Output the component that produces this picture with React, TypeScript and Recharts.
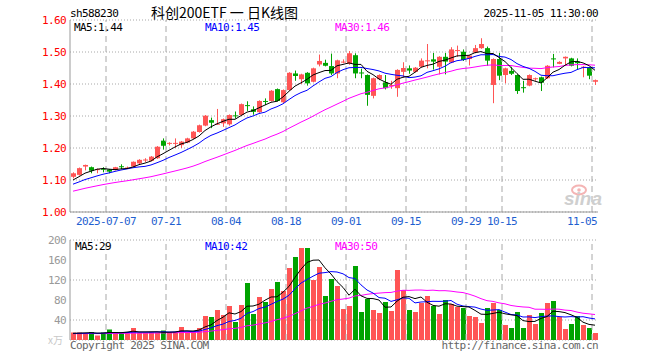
import React from 'react';
import { ComposedChart, Bar, Line, XAxis, YAxis, CartesianGrid, ReferenceLine } from 'recharts';

const RED = '#ff5555';
const GREEN = '#00a300';
const GRID = '#a8a8a8';
const FRAME = '#999';
const MONO = '"DejaVu Sans Mono", monospace';

// trading days shown (2025)
const dates = [
  '2025-06-27', '2025-06-30', '2025-07-01', '2025-07-02', '2025-07-03', '2025-07-04', '2025-07-07', '2025-07-08',
  '2025-07-09', '2025-07-10', '2025-07-11', '2025-07-14', '2025-07-15', '2025-07-16', '2025-07-17', '2025-07-18',
  '2025-07-21', '2025-07-22', '2025-07-23', '2025-07-24', '2025-07-25', '2025-07-28', '2025-07-29', '2025-07-30',
  '2025-07-31', '2025-08-01', '2025-08-04', '2025-08-05', '2025-08-06', '2025-08-07', '2025-08-08', '2025-08-11',
  '2025-08-12', '2025-08-13', '2025-08-14', '2025-08-15', '2025-08-18', '2025-08-19', '2025-08-20', '2025-08-21',
  '2025-08-22', '2025-08-25', '2025-08-26', '2025-08-27', '2025-08-28', '2025-08-29', '2025-09-01', '2025-09-02',
  '2025-09-03', '2025-09-04', '2025-09-05', '2025-09-08', '2025-09-09', '2025-09-10', '2025-09-11', '2025-09-12',
  '2025-09-15', '2025-09-16', '2025-09-17', '2025-09-18', '2025-09-19', '2025-09-22', '2025-09-23', '2025-09-24',
  '2025-09-25', '2025-09-26', '2025-09-29', '2025-09-30', '2025-10-09', '2025-10-10', '2025-10-13', '2025-10-14',
  '2025-10-15', '2025-10-16', '2025-10-17', '2025-10-20', '2025-10-21', '2025-10-22', '2025-10-23', '2025-10-24',
  '2025-10-27', '2025-10-28', '2025-10-29', '2025-10-30', '2025-10-31', '2025-11-03', '2025-11-04', '2025-11-05',
];

const opens = [
  1.110, 1.116, 1.142, 1.140, 1.131, 1.135, 1.133, 1.131, 1.143, 1.137,
  1.142, 1.152, 1.162, 1.160, 1.168, 1.223, 1.213, 1.214, 1.209, 1.217,
  1.230, 1.250, 1.270, 1.287, 1.274, 1.277, 1.274, 1.302, 1.303, 1.334,
  1.321, 1.312, 1.347, 1.347, 1.384, 1.343, 1.381, 1.433, 1.415, 1.435,
  1.407, 1.461, 1.466, 1.456, 1.433, 1.468, 1.463, 1.490, 1.436, 1.428,
  1.363, 1.415, 1.405, 1.395, 1.387, 1.438, 1.449, 1.438, 1.454, 1.472,
  1.477, 1.454, 1.485, 1.467, 1.504, 1.501, 1.478, 1.498, 1.512, 1.512,
  1.397, 1.478, 1.428, 1.441, 1.428, 1.390, 1.395, 1.416, 1.421, 1.418,
  1.480, 1.463, 1.480, 1.480, 1.470, 1.451, 1.451, 1.407,
];
const highs = [
  1.124, 1.139, 1.148, 1.142, 1.136, 1.140, 1.134, 1.141, 1.149, 1.142,
  1.158, 1.165, 1.168, 1.175, 1.206, 1.230, 1.218, 1.230, 1.222, 1.232,
  1.253, 1.273, 1.303, 1.295, 1.322, 1.292, 1.305, 1.314, 1.339, 1.346,
  1.330, 1.349, 1.355, 1.381, 1.386, 1.383, 1.437, 1.442, 1.432, 1.437,
  1.451, 1.492, 1.476, 1.495, 1.476, 1.477, 1.503, 1.496, 1.448, 1.430,
  1.420, 1.430, 1.428, 1.410, 1.446, 1.468, 1.458, 1.453, 1.480, 1.525,
  1.497, 1.487, 1.497, 1.515, 1.520, 1.508, 1.490, 1.522, 1.543, 1.517,
  1.480, 1.497, 1.451, 1.454, 1.430, 1.410, 1.430, 1.420, 1.423, 1.459,
  1.494, 1.471, 1.486, 1.482, 1.480, 1.456, 1.452, 1.414,
];
const lows = [
  1.105, 1.114, 1.130, 1.121, 1.121, 1.124, 1.121, 1.130, 1.134, 1.135,
  1.140, 1.150, 1.156, 1.158, 1.166, 1.195, 1.208, 1.200, 1.200, 1.215,
  1.228, 1.248, 1.268, 1.262, 1.272, 1.266, 1.270, 1.292, 1.301, 1.316,
  1.304, 1.310, 1.334, 1.345, 1.345, 1.341, 1.379, 1.410, 1.400, 1.395,
  1.405, 1.455, 1.455, 1.428, 1.418, 1.465, 1.460, 1.418, 1.418, 1.332,
  1.355, 1.412, 1.383, 1.385, 1.360, 1.420, 1.432, 1.436, 1.452, 1.449,
  1.445, 1.430, 1.430, 1.465, 1.485, 1.472, 1.458, 1.496, 1.510, 1.457,
  1.340, 1.412, 1.402, 1.428, 1.369, 1.373, 1.393, 1.410, 1.378, 1.416,
  1.452, 1.462, 1.459, 1.455, 1.444, 1.421, 1.415, 1.397,
];
const closes = [
  1.121, 1.137, 1.147, 1.129, 1.134, 1.133, 1.126, 1.140, 1.141, 1.139,
  1.157, 1.163, 1.164, 1.173, 1.204, 1.207, 1.216, 1.216, 1.220, 1.230,
  1.251, 1.271, 1.301, 1.279, 1.276, 1.290, 1.303, 1.300, 1.337, 1.331,
  1.313, 1.347, 1.344, 1.379, 1.347, 1.381, 1.435, 1.425, 1.430, 1.402,
  1.449, 1.472, 1.457, 1.433, 1.474, 1.470, 1.496, 1.433, 1.433, 1.366,
  1.418, 1.428, 1.387, 1.397, 1.444, 1.450, 1.442, 1.451, 1.473, 1.474,
  1.470, 1.485, 1.470, 1.508, 1.506, 1.475, 1.489, 1.512, 1.525, 1.473,
  1.478, 1.426, 1.449, 1.432, 1.378, 1.388, 1.428, 1.418, 1.404, 1.457,
  1.478, 1.469, 1.485, 1.457, 1.465, 1.454, 1.426, 1.412,
];
// volume, 万手
const volumes = [
  15, 15, 14, 16, 9, 15, 21, 14, 14, 15,
  24, 14, 14, 15, 15, 19, 15, 16, 26, 16,
  17, 24, 48, 46, 60, 50, 68, 36, 70, 114,
  52, 86, 76, 102, 116, 98, 144, 166, 184, 184,
  120, 146, 88, 122, 108, 62, 68, 148, 56, 82,
  60, 54, 76, 58, 140, 100, 60, 56, 74, 88,
  68, 52, 80, 72, 66, 64, 48, 46, 34, 64,
  74, 60, 30, 24, 56, 24, 50, 32, 54, 74,
  78, 46, 22, 32, 48, 30, 24, 14,
];
// sessions before the window, only feed the moving averages at the left edge
const priorCloses = [
  1.005, 1.010, 1.012, 1.018, 1.020, 1.025, 1.045, 1.055, 1.060, 1.065,
  1.068, 1.070, 1.072, 1.074, 1.076, 1.078, 1.080, 1.082, 1.083, 1.084,
  1.068, 1.072, 1.074, 1.076, 1.080, 1.085, 1.092, 1.098, 1.104,
];
const priorVolumes = [
  12, 13, 11, 14, 12, 13, 12, 11, 13, 12,
  14, 12, 13, 11, 12, 13, 12, 14, 13, 12,
  11, 13, 12, 14, 12, 13, 12, 14, 13,
];

const dateTicks = ['2025-07-07', '2025-07-21', '2025-08-04', '2025-08-18', '2025-09-01', '2025-09-15', '2025-09-29', '2025-10-15', '2025-11-05'];
const priceTicks = [1.0, 1.1, 1.2, 1.3, 1.4, 1.5, 1.6];
const volumeTicks = [40, 80, 120, 160, 200];

const movingAverage = (prior: number[], values: number[], n: number) => {
  const all = prior.concat(values);
  return values.map((_, i) => {
    const end = prior.length + i + 1;
    let sum = 0;
    for (let j = end - n; j < end; j++) sum += all[j];
    return sum / n;
  });
};

const ma5 = movingAverage(priorCloses, closes, 5);
const ma10 = movingAverage(priorCloses, closes, 10);
const ma30 = movingAverage(priorCloses, closes, 30);
const vma5 = movingAverage(priorVolumes, volumes, 5);
const vma10 = movingAverage(priorVolumes, volumes, 10);
const vma30 = movingAverage(priorVolumes, volumes, 30);

const rows = dates.map((date, i) => ({
  date,
  open: opens[i],
  high: highs[i],
  low: lows[i],
  close: closes[i],
  range: [lows[i], highs[i]],
  up: closes[i] >= opens[i],
  volume: volumes[i],
  ma5: ma5[i],
  ma10: ma10[i],
  ma30: ma30[i],
  vma5: vma5[i],
  vma10: vma10[i],
  vma30: vma30[i],
}));

const last = rows.length - 1;
const PLOT_RIGHT = 660 - 62;

const Candle = (props: any) => {
  const { x, y, width, height, payload } = props;
  if (x == null || !payload) return null;
  const top = Math.min(y, y + height);
  const h = Math.abs(height);
  const { open, close, high, low } = payload;
  const span = high - low || 1;
  const py = (v: number) => top + ((high - v) / span) * h;
  const color = close >= open ? RED : GREEN;
  const left = Math.floor(x);
  const w = Math.round(width);
  const cx = left + Math.floor(w / 2) + 0.5;
  const bTop = py(Math.max(open, close));
  const bBot = py(Math.min(open, close));
  return (
    <g>
      <line x1={cx} x2={cx} y1={top} y2={top + h} stroke={color} strokeWidth={1} />
      <rect x={left} y={bTop} width={w} height={Math.max(1, bBot - bTop)} fill={color} />
    </g>
  );
};

const VolBar = (props: any) => {
  const { x, y, width, height, payload } = props;
  if (x == null || !payload) return null;
  return <rect x={Math.floor(x)} y={y} width={Math.round(width)} height={height} fill={payload.up ? RED : GREEN} />;
};

const DateTick = (props: any) => {
  const { x, y, payload } = props;
  const v: string = payload.value;
  const label = v === dateTicks[0] ? v : v.slice(5);
  const half = payload.offset != null ? payload.offset : 3;
  const w = label.length * 6;
  let cx = x - half;
  if (cx + w / 2 > PLOT_RIGHT - 1) cx = PLOT_RIGHT - 1 - w / 2;
  return (
    <text x={cx} y={y + 11} textAnchor="middle" fill="#1f5fd0" fontSize={11} letterSpacing={-0.6} fontFamily={MONO}>
      {label}
    </text>
  );
};

const monoText = { fontFamily: MONO, fontSize: 11, letterSpacing: -0.6 };

export default function App() {
  return (
    <div style={{ position: 'absolute', left: 0, top: 0, width: 660, height: 360, background: '#fff' }}>
      <div style={{ position: 'absolute', left: 0, top: 0 }}>
        <ComposedChart width={660} height={230} data={rows} margin={{ top: 20, right: 62, left: 0, bottom: 0 }}>
          <CartesianGrid xAxisId="main" yAxisId="p" vertical={false} stroke={GRID} strokeDasharray="1 2" />
          {dateTicks.map((d) => (
            <ReferenceLine key={d} xAxisId="main" yAxisId="p" x={d} position="start" stroke={GRID} strokeDasharray="6 4" />
          ))}
          <XAxis xAxisId="main" dataKey="date" ticks={dateTicks} interval={0} height={18} tickLine={false} tickSize={0}
            axisLine={{ stroke: FRAME }} tick={<DateTick />} />
          <XAxis xAxisId="top" orientation="top" dataKey="date" height={0} tick={false} tickLine={false} axisLine={{ stroke: FRAME }} />
          <YAxis yAxisId="p" domain={[1.0, 1.6]} ticks={priceTicks} width={70} tickLine={false} tickSize={0} tickMargin={4}
            axisLine={{ stroke: FRAME }} allowDataOverflow
            tick={{ fill: '#ff0000', fontSize: 11, fontFamily: MONO, letterSpacing: -0.6 }}
            tickFormatter={(v: number) => v.toFixed(2)} />
          <YAxis yAxisId="r" orientation="right" domain={[1.0, 1.6]} width={0} tick={false} tickLine={false} axisLine={{ stroke: FRAME }} />
          <Bar xAxisId="main" yAxisId="p" dataKey="range" barSize={5} shape={<Candle />} isAnimationActive={false} />
          <Line xAxisId="main" yAxisId="p" dataKey="ma30" stroke="#ff00ff" strokeWidth={1} dot={false} activeDot={false} isAnimationActive={false} />
          <Line xAxisId="main" yAxisId="p" dataKey="ma10" stroke="#0000ff" strokeWidth={1} dot={false} activeDot={false} isAnimationActive={false} />
          <Line xAxisId="main" yAxisId="p" dataKey="ma5" stroke="#000000" strokeWidth={1} dot={false} activeDot={false} isAnimationActive={false} />
        </ComposedChart>
      </div>
      <div style={{ position: 'absolute', left: 0, top: 230 }}>
        <ComposedChart width={660} height={130} data={rows} margin={{ top: 10, right: 62, left: 0, bottom: 20 }}>
          <CartesianGrid xAxisId="main" yAxisId="v" vertical={false} stroke={GRID} strokeDasharray="1 2" />
          {dateTicks.map((d) => (
            <ReferenceLine key={d} xAxisId="main" yAxisId="v" x={d} position="start" stroke={GRID} strokeDasharray="6 4" />
          ))}
          <XAxis xAxisId="main" dataKey="date" height={0} tick={false} tickLine={false} axisLine={{ stroke: FRAME }} />
          <XAxis xAxisId="top" orientation="top" dataKey="date" height={0} tick={false} tickLine={false} axisLine={{ stroke: FRAME }} />
          <YAxis yAxisId="v" domain={[0, 200]} ticks={volumeTicks} width={70} tickLine={false} tickSize={0} tickMargin={4}
            axisLine={{ stroke: FRAME }} allowDataOverflow
            tick={{ fill: '#999', fontSize: 11, fontFamily: MONO, letterSpacing: -0.6 }} />
          <YAxis yAxisId="r" orientation="right" domain={[0, 200]} width={0} tick={false} tickLine={false} axisLine={{ stroke: FRAME }} />
          <Bar xAxisId="main" yAxisId="v" dataKey="volume" barSize={5} shape={<VolBar />} isAnimationActive={false} />
          <Line xAxisId="main" yAxisId="v" dataKey="vma30" stroke="#ff00ff" strokeWidth={1} dot={false} activeDot={false} isAnimationActive={false} />
          <Line xAxisId="main" yAxisId="v" dataKey="vma10" stroke="#0000ff" strokeWidth={1} dot={false} activeDot={false} isAnimationActive={false} />
          <Line xAxisId="main" yAxisId="v" dataKey="vma5" stroke="#000000" strokeWidth={1} dot={false} activeDot={false} isAnimationActive={false} />
        </ComposedChart>
      </div>
      <svg width={660} height={360} style={{ position: 'absolute', left: 0, top: 0, pointerEvents: 'none' }}>
        <text x={70} y={17} fill="#000" {...monoText}>sh588230</text>
        <text x={151} y={18} fill="#000" fontSize={14} fontFamily='"Noto Sans CJK SC", sans-serif'>科创200ETF 一 日K线图</text>
        <text x={598} y={17} fill="#000" textAnchor="end" {...monoText}>2025-11-05 11:30:00</text>

        <text x={74} y={31} fill="#000" {...monoText}>MA5:{ma5[last].toFixed(2)}</text>
        <text x={205} y={31} fill="#0000ff" {...monoText}>MA10:{ma10[last].toFixed(2)}</text>
        <text x={335} y={31} fill="#ff00ff" {...monoText}>MA30:{ma30[last].toFixed(2)}</text>

        <text x={75} y={250} fill="#000" {...monoText}>MA5:{Math.floor(vma5[last])}</text>
        <text x={205} y={250} fill="#0000ff" {...monoText}>MA10:{Math.floor(vma10[last])}</text>
        <text x={335} y={250} fill="#ff00ff" {...monoText}>MA30:{Math.floor(vma30[last])}</text>

        <text x={48} y={344} fill="#c8c8c8" fontSize={10} fontFamily='"Noto Sans CJK SC", sans-serif'>x万</text>
        <text x={70} y={349} fill="#666" {...monoText}>Copyright 2025 SINA.COM</text>
        <text x={598} y={349} fill="#666" textAnchor="end" {...monoText}>http://finance.sina.com.cn</text>

        <ellipse cx={579} cy={190} rx={7} ry={4.5} fill="none" stroke="#f4b4b4" strokeWidth={2} />
        <circle cx={579} cy={190} r={1.8} fill="#f4b4b4" />
        <text x={564} y={205} fill="#cfcfcf" fontSize={19} fontStyle="italic" fontWeight="bold" fontFamily='"Liberation Sans", sans-serif'>sina</text>
      </svg>
    </div>
  );
}
